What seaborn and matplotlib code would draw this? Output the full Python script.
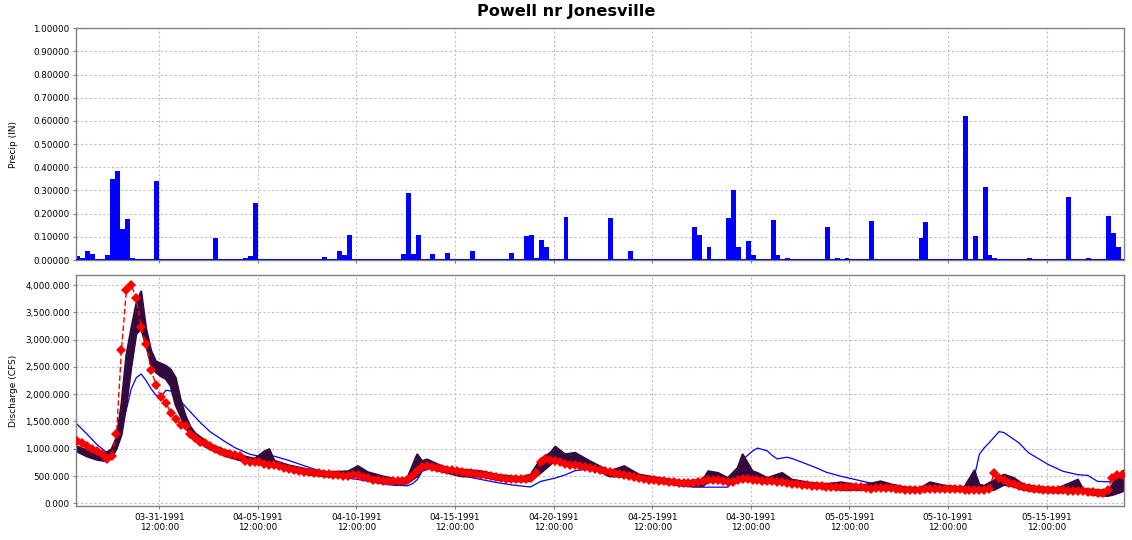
import pandas as pd
import matplotlib
matplotlib.use("Agg")
import matplotlib.pyplot as plt
import matplotlib.dates as mdates
from matplotlib.ticker import FuncFormatter, MultipleLocator
import seaborn as sns

# -------- data --------
# 6-hourly precipitation, bar start times and inches
precip_time = [
    "1991-03-27 06:00", "1991-03-27 12:00", "1991-03-27 18:00", "1991-03-28 00:00",
    "1991-03-28 18:00", "1991-03-29 00:00", "1991-03-29 06:00", "1991-03-29 12:00",
    "1991-03-29 18:00", "1991-03-30 00:00", "1991-03-31 06:00", "1991-04-03 06:00",
    "1991-04-04 18:00", "1991-04-05 00:00", "1991-04-05 06:00", "1991-04-08 18:00",
    "1991-04-09 12:00", "1991-04-09 18:00", "1991-04-10 00:00", "1991-04-12 18:00",
    "1991-04-13 00:00", "1991-04-13 06:00", "1991-04-13 12:00", "1991-04-14 06:00",
    "1991-04-15 00:00", "1991-04-16 06:00", "1991-04-18 06:00", "1991-04-19 00:00",
    "1991-04-19 06:00", "1991-04-19 12:00", "1991-04-19 18:00", "1991-04-20 00:00",
    "1991-04-21 00:00", "1991-04-21 06:00", "1991-04-23 06:00", "1991-04-24 06:00",
    "1991-04-27 12:00", "1991-04-27 18:00", "1991-04-28 06:00", "1991-04-29 06:00",
    "1991-04-29 12:00", "1991-04-29 18:00", "1991-04-30 06:00", "1991-04-30 12:00",
    "1991-05-01 12:00", "1991-05-01 18:00", "1991-05-02 06:00", "1991-05-04 06:00",
    "1991-05-04 18:00", "1991-05-05 06:00", "1991-05-06 12:00", "1991-05-09 00:00",
    "1991-05-09 06:00", "1991-05-11 06:00", "1991-05-11 18:00", "1991-05-12 06:00",
    "1991-05-12 12:00", "1991-05-12 18:00", "1991-05-14 12:00", "1991-05-16 12:00",
    "1991-05-17 12:00", "1991-05-18 12:00", "1991-05-18 18:00", "1991-05-19 00:00",
]
precip_in = [
    0.018, 0.010, 0.040, 0.027,
    0.022, 0.350, 0.385, 0.135,
    0.178, 0.010, 0.340, 0.095,
    0.008, 0.018, 0.245, 0.013,
    0.040, 0.022, 0.110, 0.028,
    0.290, 0.025, 0.110, 0.028,
    0.032, 0.037, 0.032, 0.102,
    0.106, 0.010, 0.085, 0.058,
    0.185, 0.005, 0.180, 0.040,
    0.142, 0.107, 0.055, 0.180,
    0.300, 0.058, 0.080, 0.020,
    0.173, 0.020, 0.008, 0.142,
    0.007, 0.007, 0.168, 0.095,
    0.165, 0.620, 0.105, 0.315,
    0.022, 0.007, 0.007, 0.270,
    0.007, 0.190, 0.118, 0.055,
]

# discharge series: step index i -> time = START + 6h * i
START = "1991-03-27 08:00"

# observed discharge (CFS), one value per 6-hour step
observed_cfs = [
    1150, 1100, 1050, 1000, 950, 900, 810, 870, 1270, 2800,
    3900, 4000, 3760, 3230, 2920, 2450, 2170, 1950, 1840, 1660,
    1550, 1440, 1410, 1270, 1200, 1130, 1110, 1050, 1000, 960,
    930, 900, 880, 860, 770, 750, 760, 750, 720, 710,
    700, 680, 650, 630, 610, 590, 580, 570, 560, 550,
    540, 530, 520, 510, 505, 500, 510, 520, 480, 455,
    435, 425, 415, 405, 400, 400, 400, 420, 500, 600,
    660, 680, 665, 640, 630, 615, 605, 590, 575, 560,
    550, 540, 525, 510, 495, 475, 465, 450, 445, 445,
    440, 445, 470, 560, 760, 815, 800, 770, 750, 725,
    710, 695, 680, 660, 640, 625, 605, 590, 570, 555,
    535, 515, 495, 478, 460, 445, 432, 420, 410, 400,
    395, 388, 380, 370, 370, 372, 385, 400, 420, 432,
    420, 410, 385, 395, 420, 450, 440, 432, 422, 413,
    405, 400, 390, 383, 370, 358, 348, 339, 330, 321,
    315, 309, 305, 302, 298, 292, 290, 290, 290, 290,
    275, 271, 277, 277, 277, 275, 271, 260, 250, 247,
    247, 250, 259, 265, 271, 271, 271, 271, 265, 259,
    250, 247, 247, 247, 250, 265, 560, 470, 420, 380,
    350, 320, 300, 277, 265, 259, 250, 247, 247, 247,
    240, 228, 225, 222, 218, 216, 210, 197, 185, 250,
    460, 510, 525,
]

# simulated discharge (blue line), step index and CFS
sim_step = [
    -1, 0, 2, 4, 6, 7, 8, 9, 10, 11, 12, 13, 14, 15, 16, 17, 18, 19, 20, 22,
    25, 27, 30, 32, 35, 37, 39, 40, 43, 46, 49, 51, 53, 56, 58, 60, 62, 64, 67, 68,
    69, 70, 72, 74, 77, 80, 85, 88, 91, 92, 94, 97, 99, 101, 103, 105, 108, 112, 117, 122,
    125, 132, 134, 135, 137, 138, 140, 141, 142, 144, 145, 147, 150, 152, 155, 158, 160, 162, 166, 169,
    176, 180, 182, 183, 184, 185, 187, 188, 191, 193, 197, 200, 203, 205, 207, 213,
]
sim_cfs = [
    1500, 1450, 1270, 1080, 930, 880, 1000, 1400, 1720, 2100, 2300, 2370, 2250, 2100, 1980, 1950, 2070, 2060, 1980, 1770,
    1480, 1310, 1130, 1020, 900, 860, 870, 863, 784, 690, 600, 510, 480, 450, 420, 389, 358, 333, 321, 358,
    432, 586, 660, 620, 540, 470, 383, 339, 308, 300, 401, 463, 520, 598, 620, 617, 524, 463, 413, 333,
    296, 296, 494, 802, 956, 1012, 960, 876, 814, 845, 820, 753, 648, 568, 494, 432, 389, 358, 339, 271,
    247, 247, 494, 895, 1018, 1110, 1314, 1296, 1110, 925, 710, 586, 524, 512, 401, 383,
]

# forecast ensemble envelope (dark band), step index, low and high CFS
ens_step = [
    -1, 0, 2, 4, 6, 7, 8, 9, 10, 11, 12, 13, 14, 15, 16, 17, 18, 19, 20, 21,
    22, 23, 24, 27, 30, 33, 36, 38, 39, 40, 43, 47, 51, 55, 57, 59, 62, 65, 67, 69,
    70, 71, 74, 76, 78, 82, 85, 88, 90, 92, 94, 96, 97, 99, 101, 104, 106, 108, 111, 114,
    118, 123, 127, 128, 130, 132, 134, 135, 137, 138, 140, 143, 145, 149, 152, 155, 159, 163, 167, 171,
    173, 176, 179, 180, 182, 183, 184, 186, 188, 190, 192, 195, 199, 203, 204, 206, 209, 210, 212, 213,
]
ens_low = [
    990, 950, 860, 800, 770, 840, 1000, 1250, 1800, 2500, 3100, 3200, 2900, 2550, 2400, 2330, 2280, 2150, 1800, 1600,
    1400, 1250, 1150, 990, 870, 790, 755, 770, 780, 700, 600, 527, 490, 494, 524, 463, 401, 339, 370, 494,
    617, 648, 586, 537, 494, 494, 432, 413, 401, 413, 555, 710, 802, 740, 710, 648, 586, 494, 494, 432,
    383, 321, 321, 401, 401, 370, 401, 524, 401, 401, 370, 401, 339, 296, 277, 247, 247, 259, 234, 216,
    234, 247, 228, 240, 247, 247, 234, 247, 339, 308, 247, 216, 197, 216, 200, 154, 136, 154, 216, 300,
]
ens_high = [
    1080, 1040, 970, 910, 930, 990, 1200, 1800, 2700, 3200, 3650, 3880, 3200, 2800, 2600, 2560, 2520, 2450, 2300, 1900,
    1600, 1400, 1280, 1080, 970, 880, 815, 950, 990, 780, 693, 613, 570, 586, 680, 568, 494, 432, 463, 895,
    771, 802, 679, 629, 617, 586, 524, 494, 475, 524, 802, 925, 1036, 895, 925, 771, 679, 586, 679, 524,
    463, 401, 432, 586, 555, 463, 648, 895, 586, 555, 463, 555, 432, 370, 352, 383, 321, 401, 296, 277,
    383, 321, 296, 300, 599, 339, 321, 420, 524, 463, 339, 296, 277, 432, 260, 247, 228, 339, 586, 620,
]

TITLE = "Powell nr Jonesville"
TICK_START = "1991-03-31 12:00"

# -------- tables --------
step = pd.Timedelta(hours=6)
t0 = pd.Timestamp(START)
precip = pd.DataFrame({"time": pd.to_datetime(precip_time), "precip": precip_in})
obs = pd.DataFrame({"time": [t0 + step * i for i in range(len(observed_cfs))],
                    "cfs": observed_cfs})
sim = pd.DataFrame({"time": [t0 + step * i for i in sim_step], "cfs": sim_cfs})
ens = pd.DataFrame({"time": [t0 + step * i for i in ens_step],
                    "low": ens_low, "high": ens_high})

# -------- style --------
sns.set_style("white")
plt.rcParams["font.family"] = ["DejaVu Sans"]
plt.rcParams["font.size"] = 6.3
for key in ("text.color", "axes.labelcolor", "xtick.labelcolor", "ytick.labelcolor"):
    plt.rcParams[key] = "black"

BLUE = "#0000FF"
RED = "#FF0000"
PURPLE = "#320A3E"
GRID = "#C0C0C0"
EDGE = "#808080"

fig = plt.figure(figsize=(11.32, 5.40), dpi=100)
ax_p = fig.add_axes([0.0671, 0.5185, 0.9258, 0.4291])
ax_q = fig.add_axes([0.0671, 0.0624, 0.9258, 0.4283], sharex=ax_p)

# precipitation
ax_p.bar(precip["time"], precip["precip"], width=step, align="edge",
         color=BLUE, linewidth=0, zorder=2)
ax_p.axhline(0, color=BLUE, lw=1.4, zorder=3)
ax_p.set_ylim(0, 1.0)
ax_p.yaxis.set_major_locator(MultipleLocator(0.1))
ax_p.yaxis.set_major_formatter(FuncFormatter(lambda v, p: f"{v:.5f}"))
ax_p.set_ylabel("Precip (IN)")
ax_p.tick_params(axis="x", labelbottom=False)

# discharge
ax_q.fill_between(ens["time"], ens["low"], ens["high"], color=PURPLE,
                  linewidth=0, zorder=2)
sns.lineplot(data=ens, x="time", y="low", ax=ax_q, color=PURPLE, lw=1.6, zorder=2)
sns.lineplot(data=ens, x="time", y="high", ax=ax_q, color=PURPLE, lw=1.6, zorder=2)
sns.lineplot(data=sim, x="time", y="cfs", ax=ax_q, color=BLUE, lw=0.9, zorder=1.5)
sns.lineplot(data=obs, x="time", y="cfs", ax=ax_q, color=RED, lw=1.0,
             marker="D", markersize=4.8, markeredgewidth=0, zorder=4)
ax_q.lines[-1].set_linestyle((0, (4, 2)))

ax_q.set_ylim(-55, 4183)
ax_q.yaxis.set_major_locator(MultipleLocator(500))
ax_q.yaxis.set_major_formatter(FuncFormatter(lambda v, p: f"{v:,.3f}"))
ax_q.set_ylabel("Discharge (CFS)")
ax_q.set_xlabel("")

ticks = pd.date_range(TICK_START, periods=10, freq="5D")
ax_q.set_xticks(ticks)
ax_q.xaxis.set_major_formatter(mdates.DateFormatter("%m-%d-%Y\n%H:%M:%S"))
ax_q.set_xlim(pd.Timestamp("1991-03-27 06:40"), pd.Timestamp("1991-05-19 10:00"))

for ax in (ax_p, ax_q):
    ax.set_facecolor("white")
    ax.grid(True, color=GRID, linestyle=(0, (2, 2)), linewidth=0.8, zorder=0)
    ax.set_axisbelow(True)
    for s in ax.spines.values():
        s.set_color(EDGE)
        s.set_linewidth(1.0)
    ax.tick_params(length=2.5, width=0.8, color=EDGE, pad=2, labelsize=6.3,
                   labelcolor="black", left=True, bottom=True)
    ax.yaxis.set_label_coords(-0.0553, 0.5)
    ax.yaxis.label.set_size(6.5)
    ax.yaxis.label.set_color("black")

fig.text(0.5, 0.978, TITLE, ha="center", va="center", fontsize=11.6,
         fontweight="bold", color="black")

fig.savefig("out.png", dpi=100)
plt.close(fig)
